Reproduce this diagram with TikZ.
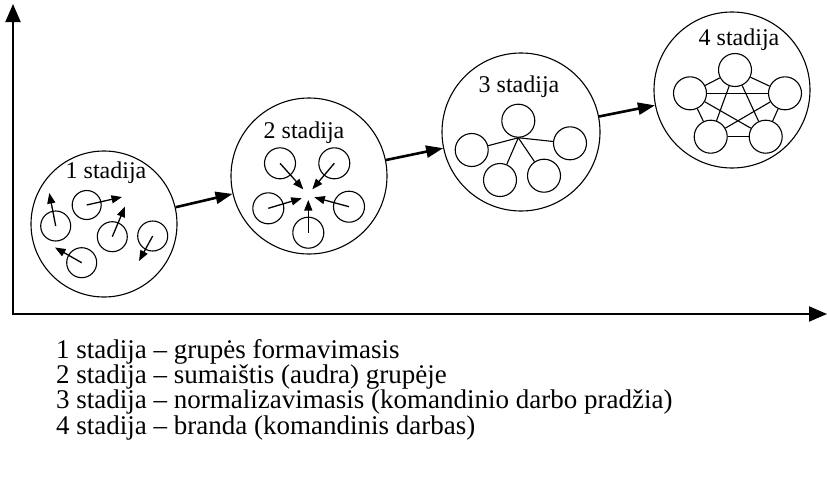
\documentclass[tikz,border=0pt]{standalone}
\usepackage{fontspec}
\setmainfont{Liberation Serif}
\usetikzlibrary{arrows.meta}
\begin{document}
\begin{tikzpicture}[x=1pt,y=-1pt,
  txt/.style={font=\fontsize{24}{28}\selectfont,inner sep=0pt},
  legend/.style={font=\fontsize{27}{30}\selectfont,inner sep=0pt,anchor=base west},
  stage/.style={circle,draw,line width=1.1pt,minimum size=#1,inner sep=0pt},
  member/.style={circle,draw,line width=1.1pt,minimum size=#1,inner sep=0pt},
  move/.style={line width=1.3pt,-{Triangle[length=10.5pt,width=8pt]}},
  link/.style={line width=1.1pt},
  progress/.style={line width=2.6pt,-{Triangle[length=17pt,width=12pt]}},
  axis/.style={line width=2pt,{Triangle[length=18pt,width=15pt]}-{Triangle[length=18pt,width=15pt]},line join=miter}]
\useasboundingbox (0,0) rectangle (827,480);

% axes
\coordinate (origin) at (13,314);
\coordinate (ytip) at (13,4);
\coordinate (xtip) at (827,314);
\draw[axis] (ytip) -- (origin) -- (xtip);

% stage circles
\node[stage=146] (c1) at (104,224) {};
\node[stage=156] (c2) at (309,176) {};
\node[stage=158] (c3) at (521,132) {};
\node[stage=156] (c4) at (732,90) {};

\draw[progress] (c1) -- (c2);
\draw[progress] (c2) -- (c3);
\draw[progress] (c3) -- (c4);

% stage titles
\node[txt,anchor=base] (t1) at (106,178) {1 stadija};
\node[txt,anchor=base] (t2) at (304,138) {2 stadija};
\node[txt,anchor=base] (t3) at (519,92) {3 stadija};
\node[txt,anchor=base] (t4) at (739,45) {4 stadija};

% stage 1: members moving apart
\node[member=30] (a1) at (55.7,226) {};
\node[member=29] (a2) at (86.7,205) {};
\node[member=30] (a3) at (112.3,236.7) {};
\node[member=30] (a4) at (81.7,262.7) {};
\node[member=30] (a5) at (152.7,236) {};
\coordinate (a1e) at (49.3,193);
\coordinate (a2e) at (122,197);
\coordinate (a3e) at (125,206.5);
\coordinate (a4e) at (55,247.5);
\coordinate (a5e) at (139,261);
\draw[move] (a1.center) -- (a1e);
\draw[move] (a2.center) -- (a2e);
\draw[move] (a3.center) -- (a3e);
\draw[move] (a4.center) -- (a4e);
\draw[move] (a5.center) -- (a5e);

% stage 2: members pushing to one point
\node[member=31] (b1) at (280,163.3) {};
\node[member=31] (b2) at (334.3,163.3) {};
\node[member=31] (b3) at (268.3,208.3) {};
\node[member=31] (b4) at (349,206.7) {};
\node[member=31] (b5) at (308.3,232.7) {};
\coordinate (b1e) at (303.3,189.3);
\coordinate (b2e) at (312.3,189.3);
\coordinate (b3e) at (301.7,198.3);
\coordinate (b4e) at (314.3,197.3);
\coordinate (b5e) at (308.3,200);
\draw[move] (b1.center) -- (b1e);
\draw[move] (b2.center) -- (b2e);
\draw[move] (b3.center) -- (b3e);
\draw[move] (b4.center) -- (b4e);
\draw[move] (b5.center) -- (b5e);

% stage 3: one leader linked to all
\node[member=33] (m1) at (518.3,120.7) {};
\node[member=33] (m2) at (471.7,150) {};
\node[member=33] (m3) at (570,143.3) {};
\node[member=33] (m4) at (500,180) {};
\node[member=33] (m5) at (544,175.7) {};
\draw[link] (m1.south) -- (m2);
\draw[link] (m1.south) -- (m3);
\draw[link] (m1.south) -- (m4);
\draw[link] (m1.south) -- (m5);

% stage 4: everyone linked to everyone
\node[member=33] (n1) at (735,70) {};
\node[member=33] (n2) at (690,93.3) {};
\node[member=33] (n3) at (785,93.3) {};
\node[member=33] (n4) at (710.7,136.7) {};
\node[member=33] (n5) at (765.7,136.7) {};
\foreach \p/\q in {n1/n2,n1/n3,n1/n4,n1/n5,n2/n3,n2/n4,n2/n5,n3/n4,n3/n5,n4/n5}
  \draw[link] (\p) -- (\q);

% legend
\node[legend] (l1) at (56,358) {1 stadija – grupės formavimasis};
\node[legend] (l2) at (56,383) {2 stadija – sumaištis (audra) grupėje};
\node[legend] (l3) at (56,408.5) {3 stadija – normalizavimasis (komandinio darbo pradžia)};
\node[legend] (l4) at (56,434) {4 stadija – branda (komandinis darbas)};
\end{tikzpicture}
\end{document}
